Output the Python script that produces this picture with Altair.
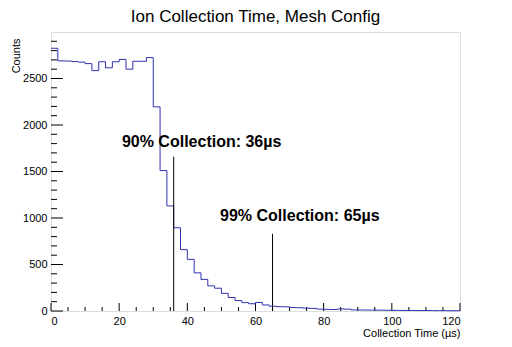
import altair as alt
import pandas as pd

# histogram: 60 bins of 2 us from 0 to 120
bin_edges = [i * 2 for i in range(61)]
counts = [2825, 2690, 2688, 2682, 2676, 2660, 2585, 2680, 2615, 2680,
          2705, 2600, 2685, 2685, 2725, 2195, 1510, 1130, 895, 660,
          555, 410, 340, 270, 245, 190, 145, 112, 90, 78,
          92, 65, 52, 47, 45, 38, 35, 30, 28, 20,
          18, 16, 22, 20, 12, 11, 10, 10, 9, 8,
          7, 6, 6, 5, 5, 5, 4, 4, 3, 3]

marker_x = [36, 65]
marker_top = [1660, 830]
label_text = ["90% Collection: 36\u00b5s", "99% Collection: 65\u00b5s"]
label_x = [20.8, 49.6]
label_y = [1821, 1024]

title_text = ["Ion Collection Time, Mesh Config"]

x_major = [0, 20, 40, 60, 80, 100, 120]
x_minor = [v for v in range(0, 121, 5) if v % 20 != 0]
y_major = [0, 500, 1000, 1500, 2000, 2500]
y_minor = [v for v in range(0, 3000, 100) if v % 500 != 0]

W, H = 409, 279
FONT = "Liberation Sans"

hist = pd.DataFrame({"t": bin_edges, "c": counts + [counts[-1]]})
xs = alt.Scale(domain=[0, 120], nice=False)
ys = alt.Scale(domain=[0, 3000], nice=False)

line = alt.Chart(hist).mark_line(interpolate="step-after", color="#3030b0", strokeWidth=1).encode(
    x=alt.X("t:Q", scale=xs,
            axis=alt.Axis(values=x_major, ticks=False, domain=False, grid=False, format="d",
                          labelFont=FONT, labelFontSize=11, labelColor="black", labelPadding=4,
                          title="Collection Time (\u00b5s)", titleFont=FONT, titleFontSize=11,
                          titleFontWeight="normal", titleColor="black", titleX=W, titleY=22,
                          titleAlign="right", titleBaseline="middle")),
    y=alt.Y("c:Q", scale=ys,
            axis=alt.Axis(values=y_major, ticks=False, domain=False, grid=False, format="d",
                          labelFont=FONT, labelFontSize=11, labelColor="black", labelPadding=4,
                          title="Counts", titleFont=FONT, titleFontSize=11,
                          titleFontWeight="normal", titleColor="black", titleX=-35, titleY=6,
                          titleAngle=-90, titleAlign="right", titleBaseline="middle")),
)

mk = pd.DataFrame({"x": marker_x, "top": marker_top, "zero": [0, 0]})
markers = alt.Chart(mk).mark_rule(color="black", strokeWidth=1).encode(
    x=alt.X("x:Q", scale=xs), y=alt.Y("zero:Q", scale=ys), y2="top:Q")

lb = pd.DataFrame({"x": label_x, "y": label_y, "text": label_text})
labels = alt.Chart(lb).mark_text(align="left", baseline="middle", font=FONT,
                                 fontSize=16, fontWeight="bold", color="black").encode(
    x=alt.X("x:Q", scale=xs), y=alt.Y("y:Q", scale=ys), text="text:N")

title = alt.Chart(pd.DataFrame({"text": title_text})).mark_text(
    align="center", baseline="alphabetic", font=FONT, fontSize=17, color="black").encode(
    x=alt.value(W / 2), y=alt.value(-10), text="text:N")

def xticks(vals, length):
    return alt.Chart(pd.DataFrame({"v": vals})).mark_rule(color="black", strokeWidth=1).encode(
        x=alt.X("v:Q", scale=xs), y=alt.value(H), y2=alt.value(H - length))

def yticks(vals, length):
    return alt.Chart(pd.DataFrame({"v": vals})).mark_rule(color="black", strokeWidth=1).encode(
        y=alt.Y("v:Q", scale=ys), x=alt.value(0), x2=alt.value(length))

chart = alt.layer(
    xticks(x_major, 8), xticks(x_minor, 4), yticks(y_major, 12), yticks(y_minor, 6),
    line, markers, labels, title,
).properties(
    width=W, height=H,
    autosize=alt.AutoSizeParams(type="none"),
    padding={"left": 43, "top": 24, "right": 44, "bottom": 28},
).configure_view(stroke="black", strokeWidth=1).configure(background="white")

chart.save("out.html", embed_options={"renderer": "svg", "actions": False})
